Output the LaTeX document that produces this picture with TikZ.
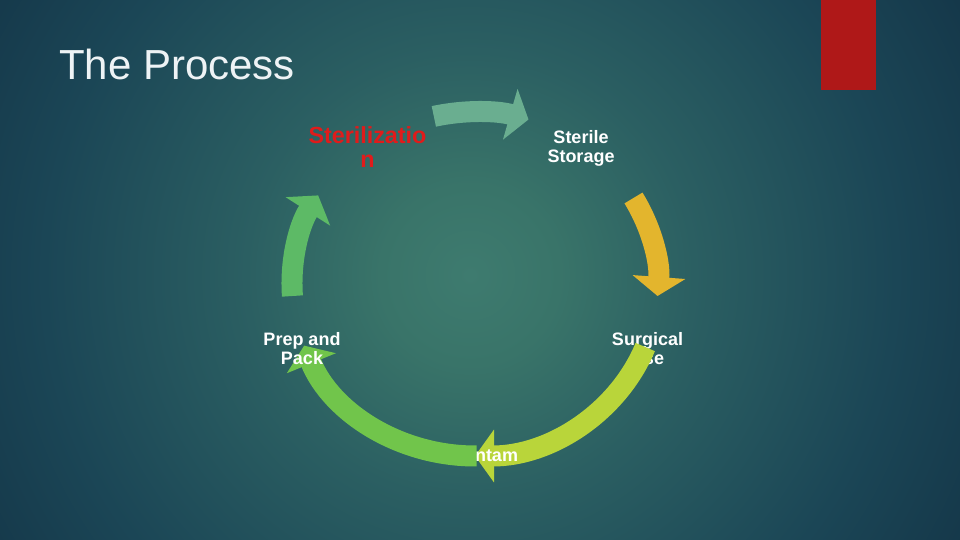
\documentclass[tikz,border=0pt]{standalone}
\usepackage{fontspec}
\setmainfont{Liberation Sans}
\usetikzlibrary{arrows.meta}

\definecolor{bglight}{HTML}{3E7B6F}
\definecolor{bgteal}{HTML}{397469}
\definecolor{bgmid}{HTML}{2B5F62}
\definecolor{bgdark}{HTML}{1B4656}
\definecolor{bgedge}{HTML}{15384A}
\definecolor{barred}{HTML}{AF1818}
\definecolor{titlegray}{HTML}{EEF3F5}
\definecolor{sterred}{HTML}{E01B1B}
\definecolor{tealarrow}{HTML}{6AAE90}
\definecolor{goldarrow}{HTML}{E3B52D}
\definecolor{limearrow}{HTML}{B9D53A}
\definecolor{grassarrow}{HTML}{71C54B}
\definecolor{leafarrow}{HTML}{5DBA66}

\pgfdeclareradialshading{slidebg}{\pgfpoint{0bp}{0bp}}{%
    color(0bp)=(bglight); color(4bp)=(bgteal); color(10bp)=(bgmid);
    color(19bp)=(bgdark); color(25bp)=(bgedge); color(50bp)=(bgedge)}

\begin{document}
\begin{tikzpicture}[x=1pt, y=1pt,
    phase/.style={text=white, font=\bfseries\fontsize{18}{19}\selectfont, align=center, inner sep=0pt},
    cyclearrow/.style={line width=21pt, -{Triangle[width=52pt, length=19pt]}}]
    \useasboundingbox (0, 0) rectangle (960, 540);

    % background
    \begin{scope}
        \clip (0, 0) rectangle (960, 540);
        \fill[bgedge] (0, 0) rectangle (960, 540);
        \shade[shading=slidebg] (470, 265) circle (560);
    \end{scope}
    \fill[barred] (821, 450) rectangle (876, 540);
    \node[anchor=base west, inner sep=0pt, text=titlegray, font=\fontsize{42}{50}\selectfont] at (59, 460) (title) {The Process};

    % cycle
    \coordinate (C) at (475, 256);
    \path (C) ++(103:183 and 172) coordinate (s1);
    \path (C) ++(30:183 and 172) coordinate (s2);
    \path (C) ++(-21.5:183 and 172) coordinate (s3);
    \path (C) ++(-89.5:183 and 172) coordinate (s4);
    \path (C) ++(184:183 and 172) coordinate (s5);

    \draw[cyclearrow, tealarrow] (s1) arc[start angle=103, end angle=73, x radius=183, y radius=172];
    \draw[cyclearrow, goldarrow] (s2) arc[start angle=30, end angle=-4, x radius=183, y radius=172];

    \node[phase, text=sterred, font=\bfseries\fontsize{23.3}{24}\selectfont] at (367.5, 393) (steril) {Sterilizatio\\n};
    \node[phase] at (581, 392) (storage) {Sterile\\Storage};
    \node[phase] at (647.5, 191) (surgical) {Surgical\\Use};

    \draw[cyclearrow, limearrow] (s3) arc[start angle=-21.5, end angle=-90, x radius=183, y radius=172];
    \node[phase] at (474.5, 84.5) (decon) {Decontam};
    \draw[cyclearrow, grassarrow] (s4) arc[start angle=-89.5, end angle=-159, x radius=183, y radius=172];
    \draw[cyclearrow, leafarrow] (s5) arc[start angle=184, end angle=149, x radius=183, y radius=172];

    \node[phase] at (302, 191) (prep) {Prep and\\Pack};
\end{tikzpicture}
\end{document}
